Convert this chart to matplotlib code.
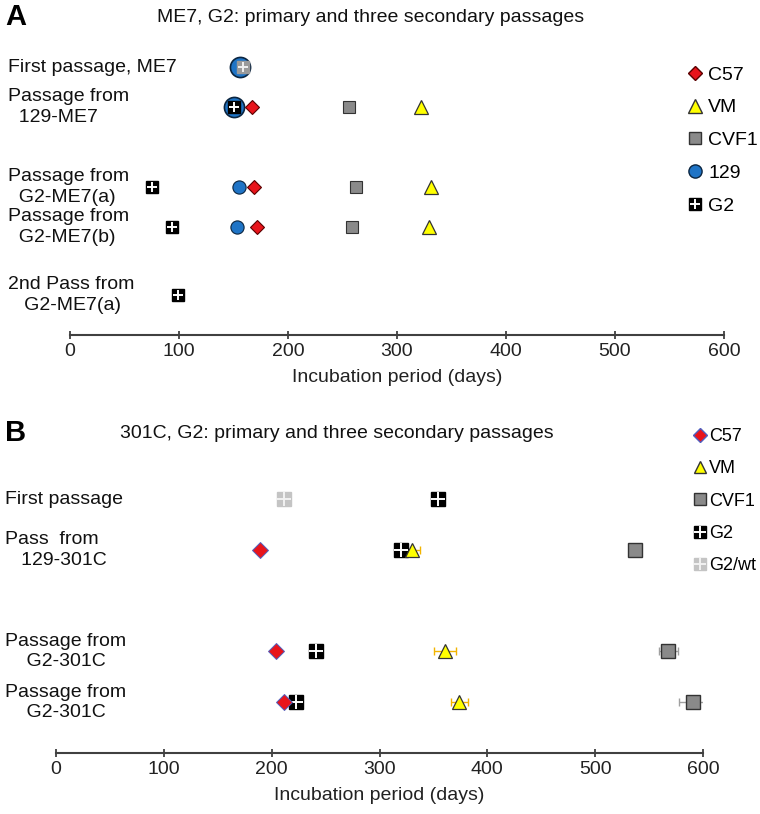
import numpy as np
import matplotlib.pyplot as plt
from matplotlib.lines import Line2D
from matplotlib.transforms import blended_transform_factory
from matplotlib.legend_handler import HandlerTuple

plt.rcParams['font.family'] = ['Liberation Sans', 'DejaVu Sans']

nan = np.nan

# ---- panel A: ME7 ----
rows_a = ["First passage, ME7", "Passage from\n  129-ME7", "Passage from\n  G2-ME7(a)",
          "Passage from\n  G2-ME7(b)", "2nd Pass from\n   G2-ME7(a)"]
c57_a = [nan, 167, 169, 172, nan]
vm_a = [nan, 322, 331, 329, nan]
cvf1_a = [nan, 256, 262, 259, nan]
m129_a = [156, 150, 155, 153, nan]
g2_a = [159, 150, 75, 94, 99]

# ---- panel B: 301C ----
rows_b = ["First passage", "Pass  from\n   129-301C", "Passage from\n    G2-301C",
          "Passage from\n    G2-301C"]
c57_b = [nan, 189, 204, 211]
vm_b = [nan, 330, 361, 374]
vm_err_b = [nan, 8, 10, 8]
cvf1_b = [nan, 537, 568, 591]
cvf1_err_b = [nan, 0, 9, 13]
g2_b = [354, 320, 241, 223]
g2wt_b = [211, nan, nan, nan]

ticks = [0, 100, 200, 300, 400, 500, 600]

RED = '#e8141b'
YEL = '#ffff00'
GRAY = '#8a8a8a'
BLUE = '#1f74c6'


def g2(ax, x, y, ms, face='black', cross='white'):
    ax.plot(x, y, 's', ms=ms, mfc=face, mec=face, ls='none', zorder=5)
    ax.plot(x, y, '+', ms=ms * 0.95, mew=1.4, color=cross, ls='none', zorder=6)


def style_axis(ax, top):
    for s in ['left', 'right', 'top']:
        ax.spines[s].set_visible(False)
    ax.spines['bottom'].set_color('#404040')
    ax.spines['bottom'].set_linewidth(1.5)
    ax.spines['bottom'].set_bounds(0, 600)
    ax.set_xlim(0, 600)
    ax.set_ylim(0, top)
    ax.set_yticks([])
    ax.set_xticks(ticks)
    ax.tick_params(axis='x', direction='inout', length=6, width=1.3, color='#404040',
                   labelsize=14, labelcolor='#222222', pad=3)
    ax.set_xlabel('Incubation period (days)', fontsize=14, color='#222222', labelpad=6)
    ax.patch.set_alpha(0)


fig = plt.figure(figsize=(7.6, 8.14), dpi=100)

# panel A
ax = fig.add_axes([70 / 760, 479 / 814, 654 / 760, 295 / 814])
style_axis(ax, 7.375)
ya = [6.7, 5.7, 3.7, 2.7, 1.0]
big = [True, True, False, False, False]
for i in range(len(ya)):
    if not np.isnan(m129_a[i]):
        ax.plot(m129_a[i], ya[i], 'o', ms=14.5 if big[i] else 9.5, mfc=BLUE,
                mec='#0b2540', mew=1.2 if big[i] else 0.8, zorder=4)
g2(ax, g2_a[0], ya[0], 8, face='#9a9a9a', cross='#f0f0f0')
for i in range(1, len(ya)):
    g2(ax, g2_a[i], ya[i], 8)
ax.plot(c57_a, ya, 'D', ms=7.5, mfc=RED, mec='#5a0000', mew=0.8, ls='none', zorder=5)
ax.plot(cvf1_a, ya, 's', ms=8, mfc=GRAY, mec='#333333', mew=0.8, ls='none', zorder=5)
ax.plot(vm_a, ya, '^', ms=10, mfc=YEL, mec='#333333', mew=0.9, ls='none', zorder=5)

tr = blended_transform_factory(fig.transFigure, ax.transData)
for lab, y in zip(rows_a, ya):
    ax.text(8 / 760, y, lab, transform=tr, fontsize=14, ha='left', va='center',
            linespacing=1.25, color='#111111')

hA = [Line2D([], [], marker='D', ms=7.5, mfc=RED, mec='#5a0000', ls='none'),
      Line2D([], [], marker='^', ms=10, mfc=YEL, mec='#333333', ls='none'),
      Line2D([], [], marker='s', ms=8, mfc=GRAY, mec='#333333', ls='none'),
      Line2D([], [], marker='o', ms=9.5, mfc=BLUE, mec='#0b2540', ls='none'),
      (Line2D([], [], marker='s', ms=8, color='black', ls='none'),
       Line2D([], [], marker='+', ms=7.6, mew=1.4, color='white', ls='none'))]
fig.legend(hA, ['C57', 'VM', 'CVF1', '129', 'G2'], loc='upper left',
           bbox_to_anchor=(687 / 760, 1 - 66 / 814), frameon=False, fontsize=14,
           handlelength=0.8, handletextpad=0.3, labelspacing=0.78, borderpad=0,
           borderaxespad=0, handler_map={tuple: HandlerTuple(ndivide=1)})

fig.text(5 / 760, 1 - 17 / 814, 'A', fontsize=21, fontweight='bold', va='center')
fig.text(157 / 760, 1 - 17 / 814, 'ME7, G2: primary and three secondary passages',
         fontsize=14, va='center', color='#111111')

# panel B
bx = fig.add_axes([56 / 760, 61 / 814, 647 / 760, 293 / 814])
style_axis(bx, 5.77)
yb = [5, 4, 2, 1]
bx.errorbar(vm_b, yb, xerr=vm_err_b, fmt='none', ecolor='#f2b400', elinewidth=1,
            capsize=3, zorder=3)
bx.errorbar(cvf1_b, yb, xerr=cvf1_err_b, fmt='none', ecolor='#a0a0a0', elinewidth=1,
            capsize=3, zorder=3)
g2(bx, g2wt_b[0], yb[0], 10, face='#c4c4c4', cross='#f2f2f2')
for i in range(len(yb)):
    g2(bx, g2_b[i], yb[i], 10)
bx.plot(c57_b, yb, 'D', ms=8, mfc=RED, mec='#5060c0', mew=0.7, ls='none', zorder=7)
bx.plot(cvf1_b, yb, 's', ms=10, mfc=GRAY, mec='#333333', mew=1.0, ls='none', zorder=5)
bx.plot(vm_b, yb, '^', ms=10, mfc=YEL, mec='#333333', mew=0.9, ls='none', zorder=7)

trb = blended_transform_factory(fig.transFigure, bx.transData)
for lab, y in zip(rows_b, yb):
    bx.text(5 / 760, y, lab, transform=trb, fontsize=14, ha='left', va='center',
            linespacing=1.25, color='#111111')

hB = [Line2D([], [], marker='D', ms=7, mfc=RED, mec='#5060c0', ls='none'),
      Line2D([], [], marker='^', ms=9, mfc=YEL, mec='#333333', ls='none'),
      Line2D([], [], marker='s', ms=9, mfc=GRAY, mec='#333333', ls='none'),
      (Line2D([], [], marker='s', ms=9, color='black', ls='none'),
       Line2D([], [], marker='+', ms=8.5, mew=1.4, color='white', ls='none')),
      (Line2D([], [], marker='s', ms=9, color='#c4c4c4', ls='none'),
       Line2D([], [], marker='+', ms=8.5, mew=1.4, color='#f2f2f2', ls='none'))]
fig.legend(hB, ['C57', 'VM', 'CVF1', 'G2', 'G2/wt'], loc='upper left',
           bbox_to_anchor=(694 / 760, 1 - 428 / 814), frameon=False, fontsize=13,
           handlelength=0.7, handletextpad=0.15, labelspacing=0.85, borderpad=0,
           borderaxespad=0, handler_map={tuple: HandlerTuple(ndivide=1)})

fig.text(5 / 760, 1 - 433 / 814, 'B', fontsize=21, fontweight='bold', va='center')
fig.text(120 / 760, 1 - 433 / 814, '301C, G2: primary and three secondary passages',
         fontsize=14, va='center', color='#111111')

fig.savefig('out.png', dpi=100)
